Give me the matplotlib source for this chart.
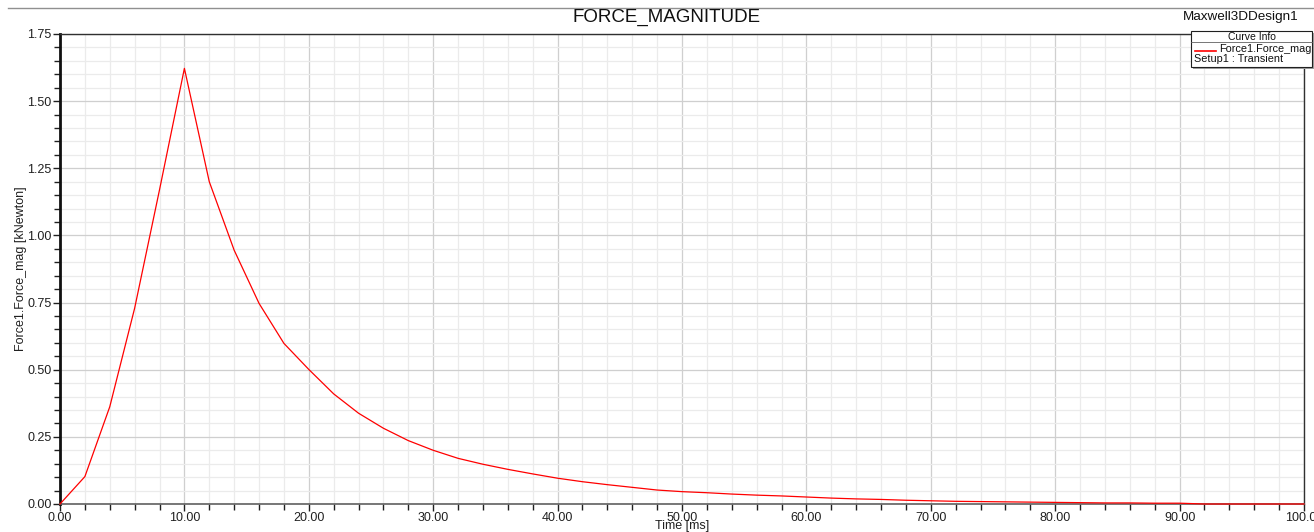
import numpy as np
import matplotlib.pyplot as plt
from matplotlib.lines import Line2D
from matplotlib.patches import Rectangle
from matplotlib.ticker import MultipleLocator, FormatStrFormatter

plt.rcParams['font.family'] = ['Liberation Sans', 'DejaVu Sans']

# ---------------data--------------- #
time_ms = [0, 2, 4, 6, 8, 10, 12, 14, 16, 18, 20, 22, 24, 26, 28, 30,
           32, 34, 36, 38, 40, 42, 44, 46, 48, 50, 52, 54, 56, 58, 60,
           62, 64, 66, 68, 70, 72, 74, 76, 78, 80, 82, 84, 86, 88, 90,
           92, 94, 96, 98, 100]
force_kn = [0.0, 0.102, 0.362, 0.729, 1.17, 1.622, 1.20, 0.945, 0.747,
            0.598, 0.501, 0.41, 0.338, 0.282, 0.236, 0.200,
            0.170, 0.148, 0.129, 0.112, 0.096, 0.083, 0.072, 0.062, 0.052,
            0.046, 0.042, 0.037, 0.033, 0.030, 0.026,
            0.022, 0.019, 0.017, 0.014, 0.012, 0.010, 0.009, 0.008, 0.007,
            0.006, 0.005, 0.004, 0.004, 0.003, 0.003,
            0.0, 0.0, 0.0, 0.0, 0.0]

W, H = 1314, 532
fig = plt.figure(figsize=(W / 100, H / 100), dpi=100)
ax = fig.add_axes([60 / W, 1 - 504 / H, (1304 - 60) / W, (504 - 34) / H])

ax.plot(time_ms, force_kn, c='#ff0000', lw=0.9, zorder=3, clip_on=False)

ax.set_xlim(0, 100)
ax.set_ylim(0, 1.75)
ax.xaxis.set_major_locator(MultipleLocator(10))
ax.xaxis.set_minor_locator(MultipleLocator(2))
ax.yaxis.set_major_locator(MultipleLocator(0.25))
ax.yaxis.set_minor_locator(MultipleLocator(0.05))
ax.xaxis.set_major_formatter(FormatStrFormatter('%.2f'))
ax.yaxis.set_major_formatter(FormatStrFormatter('%.2f'))

# ---------------grid--------------- #
ax.grid(which='major', color='#cfcfcf', lw=0.9)
ax.grid(which='minor', color='#ebebeb', lw=0.9)
ax.set_axisbelow(True)

ax.tick_params(which='major', length=5, width=1, labelsize=9,
               color='#202020', labelcolor='#202020', pad=1)
ax.tick_params(which='minor', length=4, width=1, color='#202020')

ax.spines['left'].set_linewidth(2)
ax.spines['left'].set_color('#101010')
ax.spines['top'].set_linewidth(1)
ax.spines['top'].set_color('#303030')
ax.spines['right'].set_linewidth(1)
ax.spines['right'].set_color('#303030')
ax.spines['bottom'].set_linewidth(1.2)
ax.spines['bottom'].set_color('#606060')

ax.set_xlabel('Time [ms]', fontsize=9, labelpad=-3, color='#202020')
ax.set_ylabel('Force1.Force_mag [kNewton]', fontsize=9, labelpad=0,
              color='#202020')

# ---------------title and frame--------------- #
fig.text(667 / W, 1 - 17 / H, 'FORCE_MAGNITUDE', fontsize=13.5,
         ha='center', va='center', color='#101010')
fig.text(1183 / W, 1 - 17 / H, 'Maxwell3DDesign1', fontsize=9.7,
         ha='left', va='center', color='#101010')
fig.add_artist(Line2D([8 / W, 1], [1 - 8 / H, 1 - 8 / H],
                      color='#909090', lw=1, transform=fig.transFigure))

# ---------------curve info box--------------- #
bx0, bx1, by0, by1 = 1191, 1312, 31, 67
fig.add_artist(Rectangle(((bx0 + 2) / W, 1 - (by1 + 2) / H),
                         (bx1 - bx0) / W, (by1 - by0) / H,
                         facecolor='#a0a0a0', edgecolor='none',
                         transform=fig.transFigure, zorder=5))
fig.add_artist(Rectangle((bx0 / W, 1 - by1 / H),
                         (bx1 - bx0) / W, (by1 - by0) / H,
                         facecolor='white', edgecolor='#202020', lw=0.8,
                         transform=fig.transFigure, zorder=6))
fig.add_artist(Line2D([bx0 / W, bx1 / W], [1 - 42 / H, 1 - 42 / H],
                      color='#606060', lw=0.6, transform=fig.transFigure,
                      zorder=7))
fig.text((bx0 + bx1) / 2 / W, 1 - 36.5 / H, 'Curve Info', fontsize=7.5,
         ha='center', va='center', color='#101010', zorder=7)
fig.add_artist(Line2D([1195 / W, 1216 / W], [1 - 51 / H, 1 - 51 / H],
                      color='#ff0000', lw=1.2, transform=fig.transFigure,
                      zorder=7))
fig.text(1219 / W, 1 - 49 / H, 'Force1.Force_mag', fontsize=7.8,
         ha='left', va='center', color='#101010', zorder=7)
fig.text(1194 / W, 1 - 58.5 / H, 'Setup1 : Transient', fontsize=7.8,
         ha='left', va='center', color='#101010', zorder=7)

fig.savefig('out.png', dpi=100)
